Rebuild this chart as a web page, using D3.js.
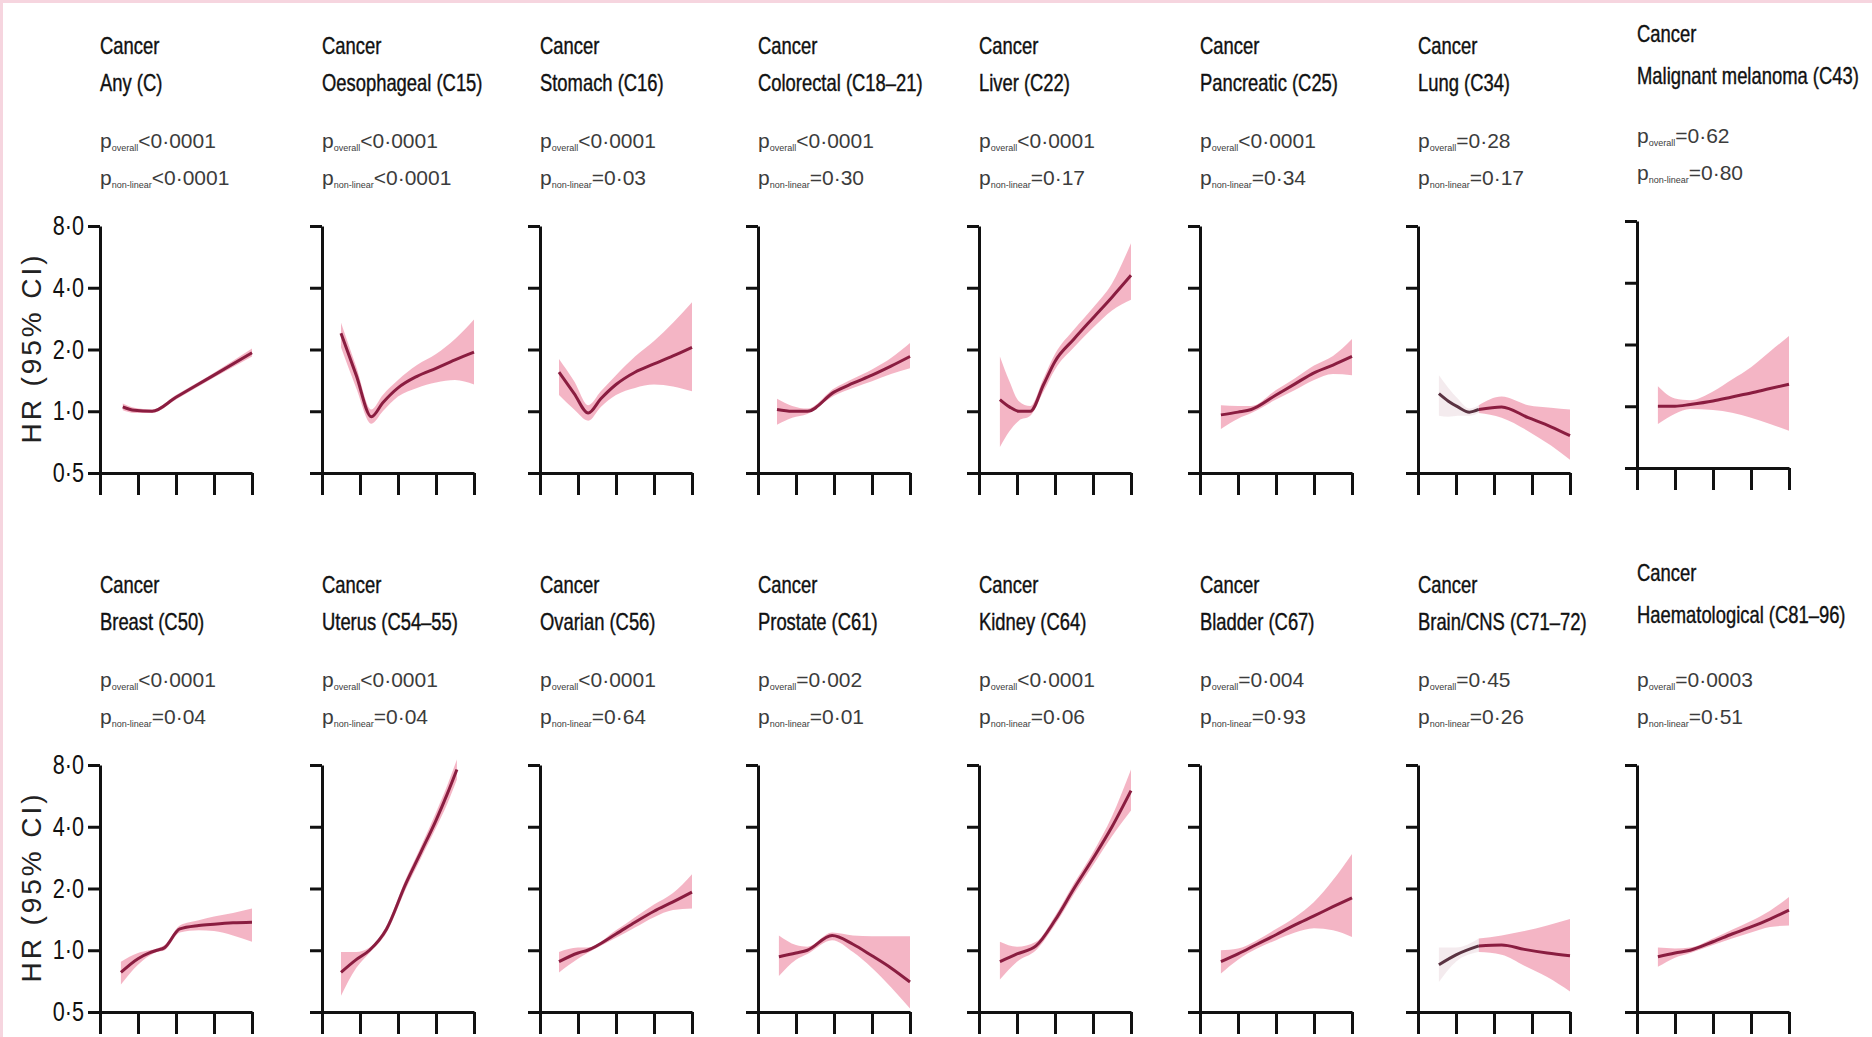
<!DOCTYPE html>
<html><head><meta charset="utf-8">
<script src="https://cdn.jsdelivr.net/npm/d3@7"></script>
<style>
html,body{margin:0;padding:0;background:#fff;}
svg{display:block;}
</style></head><body>
<svg id="chart" width="1872" height="1037"></svg>
<script>
// ---------- data ----------
const categories = ["Any (C)", "Oesophageal (C15)", "Stomach (C16)", "Colorectal (C18–21)",
  "Liver (C22)", "Pancreatic (C25)", "Lung (C34)", "Malignant melanoma (C43)",
  "Breast (C50)", "Uterus (C54–55)", "Ovarian (C56)", "Prostate (C61)",
  "Kidney (C64)", "Bladder (C67)", "Brain/CNS (C71–72)", "Haematological (C81–96)"];
const pOverall = ["<0·0001","<0·0001","<0·0001","<0·0001","<0·0001","<0·0001","=0·28","=0·62",
  "<0·0001","<0·0001","<0·0001","=0·002","<0·0001","=0·004","=0·45","=0·0003"];
const pNonLinear = ["<0·0001","<0·0001","=0·03","=0·30","=0·17","=0·34","=0·17","=0·80",
  "=0·04","=0·04","=0·64","=0·01","=0·06","=0·93","=0·26","=0·51"];
const yTickValues = [0.5, 1, 2, 4, 8];
const yTickLabels = ["0·5", "1·0", "2·0", "4·0", "8·0"];
const xTickValues = [0, 1, 2, 3, 4];

// rows: [x, HR, lower 95% CI, upper 95% CI]
const anyC = [[0.6,1.05,1.01,1.09],[0.9,1.01,0.98,1.04],[1.37,1.0,0.98,1.02],[2,1.17,1.14,1.2],[3,1.5,1.46,1.54],[4,1.93,1.85,2.02]];
const oesophageal = [[0.5,2.4,2.05,2.7],[0.9,1.5,1.3,1.65],[1.3,0.94,0.87,1.02],[1.6,1.1,1.0,1.2],[2.0,1.3,1.18,1.42],[2.5,1.48,1.3,1.68],[3.0,1.62,1.38,1.9],[3.5,1.78,1.42,2.25],[4.0,1.94,1.35,2.8]];
const stomach = [[0.5,1.55,1.2,1.8],[0.9,1.22,1.02,1.4],[1.27,0.98,0.9,1.07],[1.6,1.15,1.05,1.25],[2.0,1.35,1.2,1.5],[2.5,1.55,1.3,1.85],[3.0,1.7,1.35,2.2],[3.5,1.86,1.32,2.7],[4.0,2.05,1.25,3.4]];
const colorectal = [[0.5,1.02,0.86,1.15],[0.9,1.0,0.93,1.06],[1.3,1.0,0.97,1.03],[2.0,1.24,1.19,1.29],[2.5,1.37,1.3,1.44],[3.0,1.5,1.4,1.6],[3.5,1.66,1.52,1.82],[4.0,1.85,1.62,2.15]];
const liver = [[0.55,1.14,0.67,1.85],[0.8,1.05,0.8,1.4],[1.05,1.0,0.9,1.12],[1.35,1.0,0.95,1.06],[1.7,1.35,1.25,1.45],[2.0,1.75,1.6,1.9],[2.5,2.25,2.05,2.5],[3.0,2.85,2.55,3.2],[3.5,3.6,3.1,4.2],[4.0,4.6,3.5,6.6]];
const pancreatic = [[0.55,0.96,0.82,1.07],[1.0,0.99,0.92,1.06],[1.35,1.02,0.98,1.06],[2.0,1.2,1.14,1.27],[2.5,1.36,1.27,1.45],[3.0,1.54,1.42,1.67],[3.5,1.68,1.52,1.86],[4.0,1.85,1.5,2.25]];
const lung = [[0.55,1.22,0.95,1.5],[0.8,1.12,0.94,1.3],[1.05,1.05,0.95,1.15],[1.35,0.99,0.95,1.03],[1.6,1.02,0.98,1.07],[2.2,1.05,0.93,1.18],[2.9,0.93,0.8,1.07],[3.5,0.84,0.68,1.04],[4.0,0.76,0.58,1.02]];
const melanoma = [[0.55,1.0,0.82,1.25],[1.0,1.0,0.92,1.09],[1.4,1.02,0.97,1.07],[2.0,1.06,0.96,1.18],[2.5,1.11,0.93,1.35],[3.0,1.16,0.88,1.55],[3.5,1.22,0.82,1.85],[4.0,1.28,0.76,2.2]];
const breast = [[0.55,0.78,0.68,0.88],[1.0,0.91,0.85,0.97],[1.3,0.97,0.94,1.0],[1.5,1.0,0.98,1.02],[1.7,1.03,1.0,1.06],[2.1,1.27,1.22,1.32],[2.6,1.32,1.25,1.4],[3.0,1.34,1.24,1.46],[3.5,1.36,1.18,1.52],[4.0,1.37,1.1,1.6]];
const uterus = [[0.5,0.78,0.6,0.98],[0.9,0.9,0.82,0.98],[1.25,1.0,0.97,1.03],[1.7,1.27,1.22,1.32],[2.2,2.1,1.98,2.22],[2.6,3.0,2.8,3.2],[3.0,4.3,3.95,4.7],[3.3,5.8,5.2,6.4],[3.55,7.6,6.8,8.5]];
const ovarian = [[0.5,0.88,0.78,0.98],[1.0,0.97,0.91,1.03],[1.25,1.0,0.97,1.03],[2.0,1.2,1.15,1.25],[2.5,1.37,1.29,1.45],[3.0,1.55,1.45,1.67],[3.5,1.72,1.57,1.9],[4.0,1.92,1.6,2.35]];
const prostate = [[0.55,0.93,0.75,1.18],[1.0,0.97,0.9,1.06],[1.3,1.0,0.96,1.04],[1.95,1.18,1.12,1.22],[2.5,1.07,0.98,1.18],[3.0,0.94,0.82,1.17],[3.5,0.82,0.66,1.17],[4.0,0.7,0.52,1.17]];
const kidney = [[0.55,0.88,0.72,1.1],[1.0,0.96,0.88,1.04],[1.5,1.05,1.0,1.1],[2.0,1.4,1.33,1.47],[2.5,2.0,1.88,2.12],[3.0,2.8,2.6,3.0],[3.5,4.0,3.6,4.5],[4.0,6.0,4.8,7.6]];
const bladder = [[0.55,0.88,0.77,1.0],[1.0,0.96,0.9,1.02],[1.5,1.07,1.02,1.12],[2.0,1.19,1.12,1.27],[2.5,1.33,1.22,1.45],[3.0,1.47,1.28,1.72],[3.5,1.63,1.25,2.2],[4.0,1.8,1.16,2.95]];
const brainCNS = [[0.55,0.85,0.7,1.03],[1.0,0.95,0.88,1.03],[1.6,1.05,0.98,1.14],[2.2,1.06,0.95,1.18],[2.8,1.01,0.84,1.24],[3.4,0.97,0.74,1.32],[4.0,0.94,0.63,1.42]];
const haematological = [[0.55,0.93,0.83,1.03],[1.0,0.97,0.92,1.02],[1.4,1.0,0.97,1.03],[2.0,1.1,1.06,1.14],[2.5,1.2,1.14,1.26],[3.0,1.3,1.22,1.39],[3.5,1.42,1.3,1.56],[4.0,1.57,1.32,1.82]];

const panels = [anyC, oesophageal, stomach, colorectal, liver, pancreatic, lung, melanoma,
  breast, uterus, ovarian, prostate, kidney, bladder, brainCNS, haematological];

// ---------- layout ----------
const svg = d3.select("#chart");
const FONT = "'Liberation Sans',Arial,sans-serif";
const NARROW = 0.8;
svg.append("rect").attr("width", 1872).attr("height", 1037).attr("fill", "#fff");
svg.append("path").attr("d", "M1.5,1037V1.5H1872").attr("fill", "none")
  .attr("stroke", "#f6d5df").attr("stroke-width", 3);

const colX = [100, 322, 540, 758, 979, 1200, 1418, 1637];
const rowTop = [226, 765];
const W = 152, H = 247;
const lightSplit = {6: 1.6, 14: 1.6};

const x = d3.scaleLinear().domain([0, 4]).range([0, W]);
const y = d3.scaleLog().base(2).domain([0.5, 8]).range([H, 0]);
const area = d3.area().x(d => x(d[0])).y0(d => y(d[2])).y1(d => y(d[3])).curve(d3.curveMonotoneX);
const line = d3.line().x(d => x(d[0])).y(d => y(d[1])).curve(d3.curveMonotoneX);

// y-axis titles
rowTop.forEach(t => {
  svg.append("text")
    .attr("transform", `translate(31,${t + H / 2}) rotate(-90)`)
    .attr("text-anchor", "middle").attr("dominant-baseline", "central")
    .attr("font-family", FONT).attr("font-size", 28)
    .attr("fill", "#222").attr("textLength", 188).attr("lengthAdjust", "spacing")
    .text("HR (95% CI)");
});

panels.forEach((rows, i) => {
  const col = i % 8, row = Math.floor(i / 8);
  const shift = (i === 7) ? -5 : 0;
  const g = svg.append("g").attr("transform", `translate(${colX[col]},${rowTop[row] + shift})`);

  // titles
  const ty = (col === 7) ? [-184 - shift, -142 - shift, -78, -41] : [-172, -135, -78, -41];
  const tg = g.append("g").attr("font-family", FONT).attr("font-size", 23);
  const nt = tg.append("g").attr("transform", `scale(${NARROW},1)`)
    .attr("fill", "#111").attr("stroke", "#111").attr("stroke-width", 0.4);
  nt.append("text").attr("y", ty[0]).text("Cancer");
  nt.append("text").attr("y", ty[1]).text(categories[i]);
  [[pOverall[i], "overall"], [pNonLinear[i], "non-linear"]].forEach((p, k) => {
    const t = tg.append("text").attr("y", ty[2 + k]).attr("fill", "#3c3c3c").attr("font-size", 21);
    t.append("tspan").text("p");
    t.append("tspan").attr("font-size", 9).attr("dy", 3).text(p[1]);
    t.append("tspan").attr("dy", -3).text(p[0]);
  });

  // CI band and line
  const s = lightSplit[i];
  if (s !== undefined) {
    const left = rows.filter(d => d[0] <= s), right = rows.filter(d => d[0] >= s);
    g.append("path").datum(left).attr("d", area).attr("fill", "#f1e6ea").attr("opacity", 0.8);
    g.append("path").datum(right).attr("d", area).attr("fill", "#f1a0b5").attr("opacity", 0.78);
    g.append("path").datum(left).attr("d", line).attr("fill", "none")
      .attr("stroke", "#5a3342").attr("stroke-width", 3);
    g.append("path").datum(right).attr("d", line).attr("fill", "none")
      .attr("stroke", "#8a1d40").attr("stroke-width", 3);
  } else {
    g.append("path").datum(rows).attr("d", area).attr("fill", "#f1a0b5").attr("opacity", 0.78);
    g.append("path").datum(rows).attr("d", line).attr("fill", "none")
      .attr("stroke", "#8a1d40").attr("stroke-width", 3).attr("stroke-linejoin", "round");
  }

  // axes
  const ya = d3.axisLeft(y).tickValues(yTickValues).tickSize(12).tickSizeOuter(0).tickPadding(4)
    .tickFormat((d, j) => col === 0 ? yTickLabels[j] : "");
  const yg = g.append("g").call(ya);
  const xa = d3.axisBottom(x).tickValues(xTickValues).tickSize(22).tickSizeOuter(0).tickFormat("");
  const xg = g.append("g").attr("transform", `translate(0,${H})`).call(xa);
  [yg, xg].forEach(a => {
    a.attr("color", "#111").attr("font-family", FONT).attr("font-size", 27);
    a.selectAll("path,line").attr("stroke-width", 3);
  });
  yg.selectAll(".tick text").attr("x", -16 / NARROW).attr("transform", `scale(${NARROW},1)`);
});
</script>
</body></html>
